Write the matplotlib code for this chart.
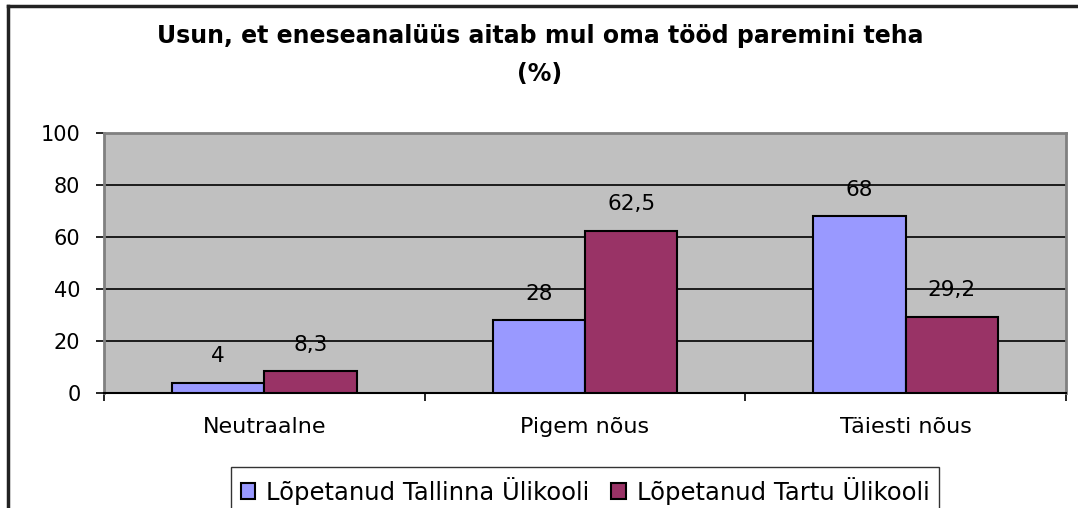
import matplotlib
matplotlib.use("Agg")
import matplotlib.pyplot as plt
from matplotlib.lines import Line2D
import numpy as np

categories = ["Neutraalne", "Pigem nõus", "Täiesti nõus"]
series_names = ["Lõpetanud Tallinna Ülikooli", "Lõpetanud Tartu Ülikooli"]
tallinn = [4, 28, 68]
tartu = [8.3, 62.5, 29.2]
label_tallinn = ["4", "28", "68"]
label_tartu = ["8,3", "62,5", "29,2"]
yticks = [0, 20, 40, 60, 80, 100]
title = "Usun, et eneseanalüüs aitab mul oma tööd paremini teha\n(%)"

plt.rcParams['font.family'] = ['DejaVu Sans']

fig = plt.figure(figsize=(10.78, 5.08), dpi=100)
ax = fig.add_axes([104/1078, 115/508, 962/1078, 260/508])
ax.set_facecolor('#C0C0C0')

x = np.arange(len(categories))
w = 0.2875
b1 = ax.bar(x - w/2, tallinn, w, color='#9999FF', edgecolor='black', linewidth=1.5,
            label=series_names[0], zorder=3)
b2 = ax.bar(x + w/2, tartu, w, color='#993366', edgecolor='black', linewidth=1.5,
            label=series_names[1], zorder=3)

for bars, labs in ((b1, label_tallinn), (b2, label_tartu)):
    for rect, lab in zip(bars, labs):
        ax.annotate(lab, (rect.get_x() + rect.get_width()/2, rect.get_height()),
                    xytext=(0, 12), textcoords='offset points',
                    ha='center', va='bottom', fontsize=15.5, zorder=4)

ax.set_xlim(-0.5, 2.5)
ax.set_ylim(0, 100)
ax.set_yticks(yticks)
ax.set_yticklabels([str(v) for v in yticks], fontsize=15)
ax.yaxis.grid(True, color='black', linewidth=1.2, zorder=1)
ax.set_axisbelow(True)

ax.set_xticks(x)
ax.set_xticklabels(categories, fontsize=16)
ax.tick_params(axis='x', length=0, pad=17)
ax.set_xticks([-0.5, 0.5, 1.5, 2.5], minor=True)
ax.tick_params(axis='x', which='minor', length=6, width=1.2, color='black')
ax.tick_params(axis='y', length=6, width=1.2, color='black', pad=11)

for s in ['top', 'right', 'left']:
    ax.spines[s].set_color('#808080')
    ax.spines[s].set_linewidth(2)
ax.spines['bottom'].set_color('black')
ax.spines['bottom'].set_linewidth(1.5)

fig.text(540/1078, 1 - 55/508, title, ha='center', va='center', fontsize=17,
         fontweight='bold', linespacing=1.7)

leg = fig.legend(handles=[b1, b2], labels=series_names, loc='upper center',
                 bbox_to_anchor=(585/1078, 1 - 467/508), ncol=2, fontsize=17.5,
                 frameon=True, fancybox=False, edgecolor='black',
                 handlelength=0.6, handleheight=0.6, handletextpad=0.45,
                 columnspacing=0.9, borderpad=0.4, borderaxespad=0)
leg.get_frame().set_linewidth(1.0)

# outer chart border (top and left visible)
fig.add_artist(Line2D([8/1078, 1.0], [1 - 5.5/508, 1 - 5.5/508], color='#222222', linewidth=2.5))
fig.add_artist(Line2D([7.5/1078, 7.5/1078], [0, 1 - 5.5/508], color='#222222', linewidth=2.5))

fig.savefig('out.png', dpi=100)
